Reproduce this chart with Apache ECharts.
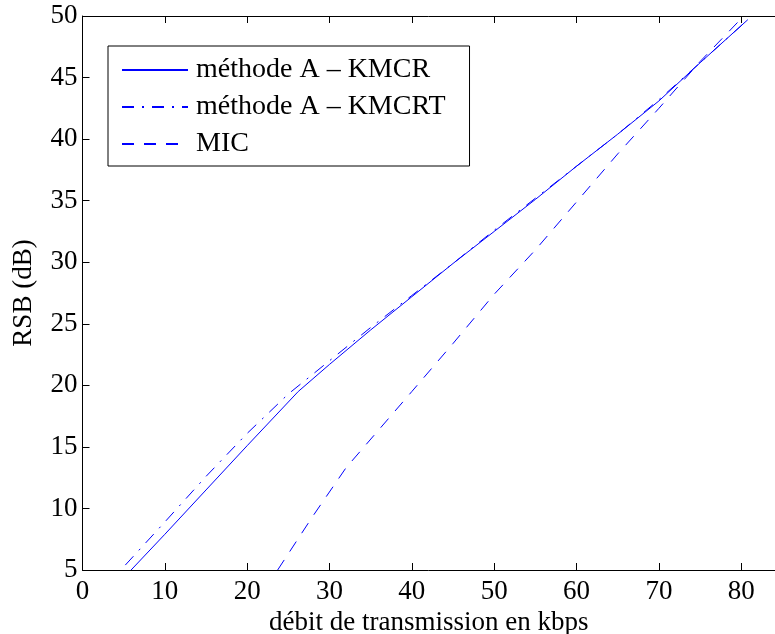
<!DOCTYPE html>
<html>
<head>
<meta charset="utf-8">
<script src="https://cdn.jsdelivr.net/npm/echarts@6/dist/echarts.min.js"></script>
<style>
  html, body { margin: 0; padding: 0; background: #fff; }
  #chart { width: 775px; height: 634px; }
</style>
</head>
<body>
<div id="chart"></div>
<script>
// débit (kbps) / RSB (dB)
const kmcrX = [5.9, 10, 15, 20, 26.2, 30, 35, 40, 45, 50, 55, 60, 65, 70, 75, 80.8];
const kmcrY = [5.0, 7.9, 11.5, 15.1, 19.5, 21.7, 24.5, 27.2, 29.9, 32.5, 35.1, 37.8, 40.4, 43.1, 46.2, 49.7];

const kmcrtX = [5.2, 10, 15, 20, 25, 30, 35, 40, 45, 50, 55, 60, 65, 70, 75, 80.8];
const kmcrtY = [5.4, 8.9, 12.6, 16.1, 19.3, 22.0, 24.7, 27.3, 29.9, 32.6, 35.2, 37.8, 40.4, 43.2, 46.2, 49.7];

const micX = [23.7, 28, 32, 36, 40, 45, 50, 55, 60, 65, 70, 75, 80.3];
const micY = [5.0, 9.4, 13.3, 16.4, 19.5, 23.4, 27.4, 31.0, 34.9, 38.8, 42.5, 46.3, 50.0];

const seriesNames = ["méthode A – KMCR", "méthode A – KMCRT", "MIC"];
const xTitle = "débit de transmission en kbps";
const yTitle = "RSB (dB)";

function pairs(xs, ys) {
  return xs.map((x, i) => [x, ys[i]]);
}

const font = "Liberation Serif";
const blue = "#0000ff";

const myChart = echarts.init(document.getElementById("chart"));

const axisLineBlack = { show: true, onZero: false, lineStyle: { color: "#000", width: 1 } };
const tickIn = { show: true, inside: true, length: 7, lineStyle: { color: "#000" } };

myChart.setOption({
  backgroundColor: "#fff",
  animation: false,
  grid: {
    left: 82.5,
    top: 16,
    right: 0,
    bottom: 64,
    containLabel: false,
    outerBoundsMode: "none"
  },
  legend: {
    orient: "vertical",
    left: 108,
    top: 46,
    data: seriesNames,
    backgroundColor: "#fff",
    borderColor: "#000",
    borderWidth: 1,
    borderRadius: 0,
    padding: [10, 24, 8, 13],
    itemWidth: 66,
    itemHeight: 14,
    itemGap: 9,
    itemStyle: { opacity: 0 },
    textStyle: {
      fontFamily: font,
      fontSize: 28,
      color: "#000",
      padding: [0, 0, 0, 3]
    }
  },
  xAxis: [
    {
      type: "value",
      min: 0,
      max: 84.1,
      interval: 10,
      position: "bottom",
      splitLine: { show: false },
      axisLine: axisLineBlack,
      axisTick: tickIn,
      name: xTitle,
      nameLocation: "middle",
      nameGap: 36,
      nameTextStyle: { fontFamily: font, fontSize: 27, color: "#000" },
      axisLabel: {
        show: true,
        margin: 8,
        showMaxLabel: false,
        fontFamily: font,
        fontSize: 27,
        color: "#000"
      }
    },
    {
      type: "value",
      min: 0,
      max: 84.1,
      interval: 10,
      position: "top",
      splitLine: { show: false },
      axisLine: axisLineBlack,
      axisTick: tickIn,
      axisLabel: { show: false }
    }
  ],
  yAxis: {
    type: "value",
    min: 5,
    max: 50,
    interval: 5,
    position: "left",
    splitLine: { show: false },
    axisLine: axisLineBlack,
    axisTick: tickIn,
    name: yTitle,
    nameLocation: "middle",
    nameGap: 45,
    nameTextStyle: { fontFamily: font, fontSize: 27, color: "#000" },
    axisLabel: {
      show: true,
      margin: 5,
      fontFamily: font,
      fontSize: 27,
      color: "#000"
    }
  },
  series: [
    {
      name: seriesNames[0],
      type: "line",
      xAxisIndex: 0,
      data: pairs(kmcrX, kmcrY),
      symbol: "none",
      color: blue,
      lineStyle: { color: blue, width: 1, type: "solid" }
    },
    {
      name: seriesNames[1],
      type: "line",
      xAxisIndex: 0,
      data: pairs(kmcrtX, kmcrtY),
      symbol: "none",
      color: blue,
      lineStyle: { color: blue, width: 1, type: [12, 8, 2, 8] }
    },
    {
      name: seriesNames[2],
      type: "line",
      xAxisIndex: 0,
      data: pairs(micX, micY),
      symbol: "none",
      color: blue,
      lineStyle: { color: blue, width: 1, type: [12, 10] }
    }
  ]
});
</script>
</body>
</html>
